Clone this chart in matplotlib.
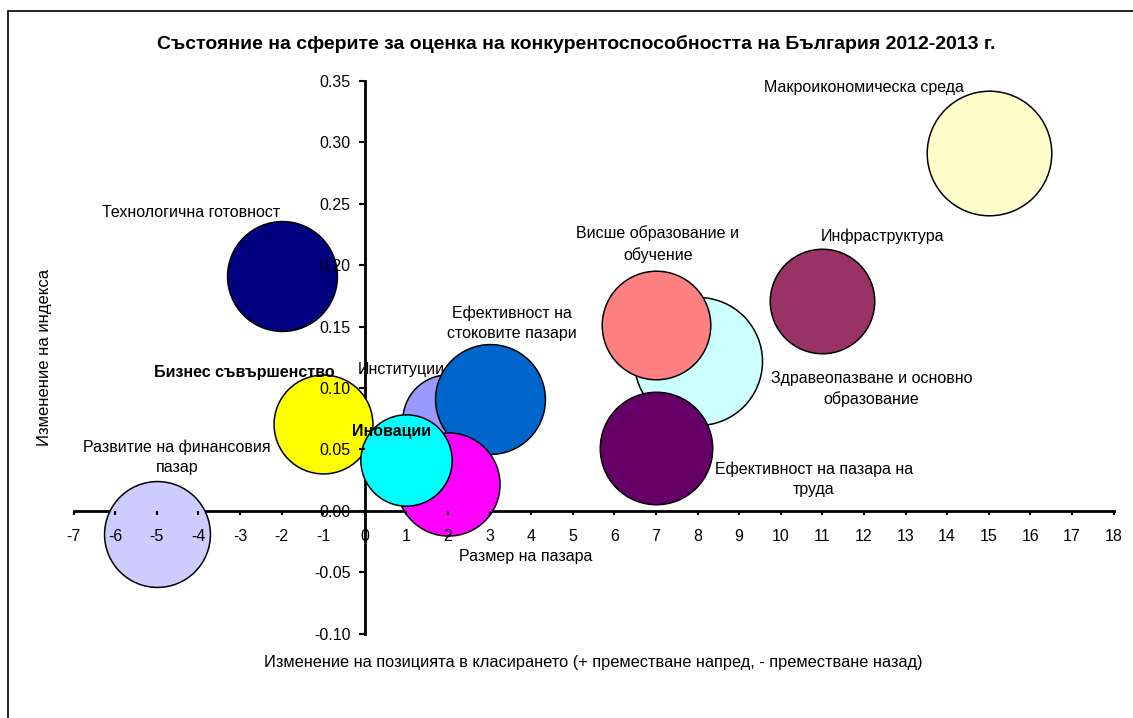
import matplotlib
matplotlib.use("Agg")
import matplotlib.pyplot as plt
from matplotlib.patches import Rectangle
import numpy as np

plt.rcParams['font.family'] = ['Liberation Sans', 'DejaVu Sans']
plt.rcParams['axes.unicode_minus'] = False

# pillars in the order of the source workbook
names = ["Институции", "Инфраструктура", "Макроикономическа среда",
         "Здравеопазване и основно\nобразование", "Ефективност на пазара на\nтруда",
         "Висше образование и\nобучение", "Ефективност на\nстоковите пазари",
         "Развитие на финансовия\nпазар", "Технологична готовност",
         "Размер на пазара", "Бизнес съвършенство", "Иновации"]
rank_change = [2, 11, 15, 8, 7, 7, 3, -5, -2, 2, -1, 1]
index_change = [0.074, 0.171, 0.291, 0.122, 0.051, 0.151, 0.091, -0.019, 0.191, 0.022, 0.071, 0.041]
score = [2.9, 3.8, 5.4, 5.7, 4.4, 4.1, 4.2, 3.9, 4.2, 3.7, 3.4, 2.9]
bold_labels = ["Бизнес съвършенство", "Иновации"]

colors = ["#9999FF", "#993366", "#FFFFCC", "#CCFFFF", "#660066", "#FF8080",
          "#0066CC", "#CCCCFF", "#000080", "#FF00FF", "#FFFF00", "#00FFFF"]
# label offsets from bubble centre, pixels (right, up)
label_off = [(-47, 50), (60, 65), (-125, 66), (174, -28), (158, -31),
             (2, 81), (22, 76), (20, 77), (-90, 64), (78, -73), (-79, 51), (-15, 29)]

W, H = 1133, 718
fig = plt.figure(figsize=(W / 100, H / 100), dpi=100)
ax = fig.add_axes([73.5 / W, 1 - 633.5 / H, 1040 / W, 552.5 / H])

# bubble area proportional to score, largest radius about 64 px
k = (2 * 64 * 0.72) ** 2 / max(score)
for i in range(len(names)):
    ax.scatter(rank_change[i], index_change[i], s=score[i] * k, color=colors[i],
               edgecolors='black', linewidths=1.1, zorder=1 + i * 0.01)
    dx, dy = label_off[i]
    ax.annotate(names[i], (rank_change[i], index_change[i]),
                xytext=(dx * 0.72, dy * 0.72), textcoords='offset points',
                ha='center', va='center', fontsize=11.5, linespacing=1.45,
                fontweight='bold' if names[i] in bold_labels else 'normal',
                zorder=10)

ax.set_xlim(-7, 18)
ax.set_ylim(-0.10, 0.35)
ax.set_xticks(np.arange(-7, 19, 1))
ax.set_yticks(np.arange(-0.10, 0.351, 0.05))
ax.set_yticklabels(["%.2f" % v for v in np.arange(-0.10, 0.351, 0.05)])

for s in ['top', 'right']:
    ax.spines[s].set_visible(False)
ax.spines['left'].set_position(('data', 0))
ax.spines['bottom'].set_position(('data', 0))
for s in ['left', 'bottom']:
    ax.spines[s].set_linewidth(2)
    ax.spines[s].set_zorder(0.5)
ax.xaxis.set_zorder(5)
ax.yaxis.set_zorder(5)
ax.tick_params(axis='x', direction='out', length=3, width=1.5, pad=10, labelsize=11.5)
ax.tick_params(axis='y', direction='out', length=4, width=1.5, pad=6, labelsize=11.5)
ax.patch.set_visible(False)

fig.text(576 / W, 1 - 44 / H,
         "Състояние на сферите за оценка на конкурентоспособността на България 2012-2013 г.",
         ha='center', va='center', fontsize=14, fontweight='bold')
fig.text(593.5 / W, 1 - 663 / H,
         "Изменение на позицията в класирането (+ преместване напред, - преместване назад)",
         ha='center', va='center', fontsize=11.8)
fig.text(45 / W, 1 - 357 / H, "Изменение на индекса", rotation=90,
         ha='center', va='center', fontsize=12)

fig.patches.append(Rectangle((8 / W, -0.2), 1.2, 1.2 - 11 / H, transform=fig.transFigure,
                             fill=False, edgecolor='black', linewidth=1.2))

fig.savefig("out.png", dpi=100)
